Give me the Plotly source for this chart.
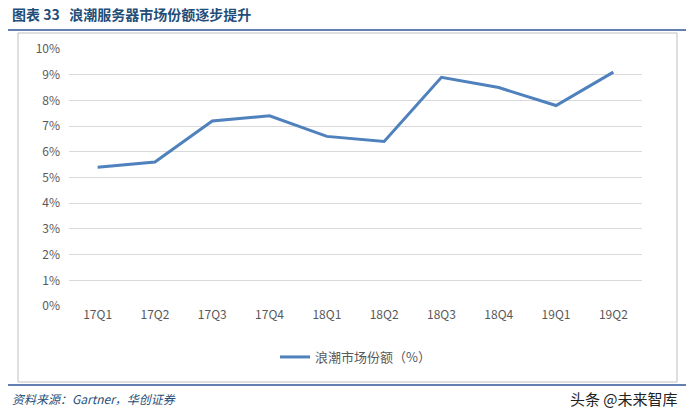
import plotly.graph_objects as go

quarters = ["17Q1", "17Q2", "17Q3", "17Q4", "18Q1", "18Q2", "18Q3", "18Q4", "19Q1", "19Q2"]
share = [5.4, 5.6, 7.2, 7.4, 6.6, 6.4, 8.9, 8.5, 7.8, 9.1]
yticks = list(range(0, 11))

W, H = 689, 419
L, R, T, B = 69, 47, 49, 113
pw, ph = W - L - R, H - T - B

def px(x):
    return (x - L) / pw

def py(y):
    return (H - B - y) / ph

fig = go.Figure(go.Scatter(
    x=quarters, y=share, mode="lines", name="浪潮市场份额（%）",
    line=dict(color="#4F81BD", width=3),
))

font = "Noto Sans CJK SC"
fig.update_layout(
    width=W, height=H, margin=dict(l=L, r=R, t=T, b=B),
    paper_bgcolor="white", plot_bgcolor="rgba(0,0,0,0)",
    font=dict(family=font, size=12, color="#595959"),
    showlegend=True,
    legend=dict(orientation="h", x=0.5, xanchor="center", y=py(357), yanchor="middle",
                font=dict(size=13, color="#595959"), bgcolor="rgba(0,0,0,0)"),
    xaxis=dict(type="category", range=[-0.5, 9.5], showgrid=False, showline=False,
               ticks="", tickfont=dict(size=12, color="#595959")),
    yaxis=dict(range=[0, 10], tickvals=yticks, ticktext=[f"{v}%" for v in yticks],
               showgrid=True, gridcolor="#D9D9D9", gridwidth=1, zeroline=False,
               ticks="", tickfont=dict(size=12, color="#595959"), ticklabelstandoff=8),
    shapes=[
        dict(type="rect", xref="paper", yref="paper", x0=px(18), x1=px(677), y0=py(382), y1=py(33),
             line=dict(color="#BFBFBF", width=1), layer="above"),
        dict(type="line", xref="paper", yref="paper", x0=px(8), x1=px(686), y0=py(30), y1=py(30),
             line=dict(color="#2F5597", width=1.5)),
        dict(type="line", xref="paper", yref="paper", x0=px(8), x1=px(686), y0=py(385), y1=py(385),
             line=dict(color="#2F5597", width=1.5)),
    ],
    annotations=[
        dict(text="<b>图表 33   浪潮服务器市场份额逐步提升</b>", xref="paper", yref="paper",
             x=px(10), y=py(14), xanchor="left", yanchor="middle", showarrow=False,
             font=dict(size=14, color="#1F4E79", family=font)),
        dict(text="<i>资料来源：Gartner，华创证券</i>", xref="paper", yref="paper",
             x=px(10), y=py(398), xanchor="left", yanchor="middle", showarrow=False,
             font=dict(size=12, color="#1F4E79", family=font)),
        dict(text="头条 @未来智库", xref="paper", yref="paper",
             x=px(680), y=py(398), xanchor="right", yanchor="middle", showarrow=False,
             font=dict(size=15, color="#222222", family=font)),
    ],
)

fig.write_html("out.html", config={"displayModeBar": False},
               post_script="document.body.style.margin='0';")
